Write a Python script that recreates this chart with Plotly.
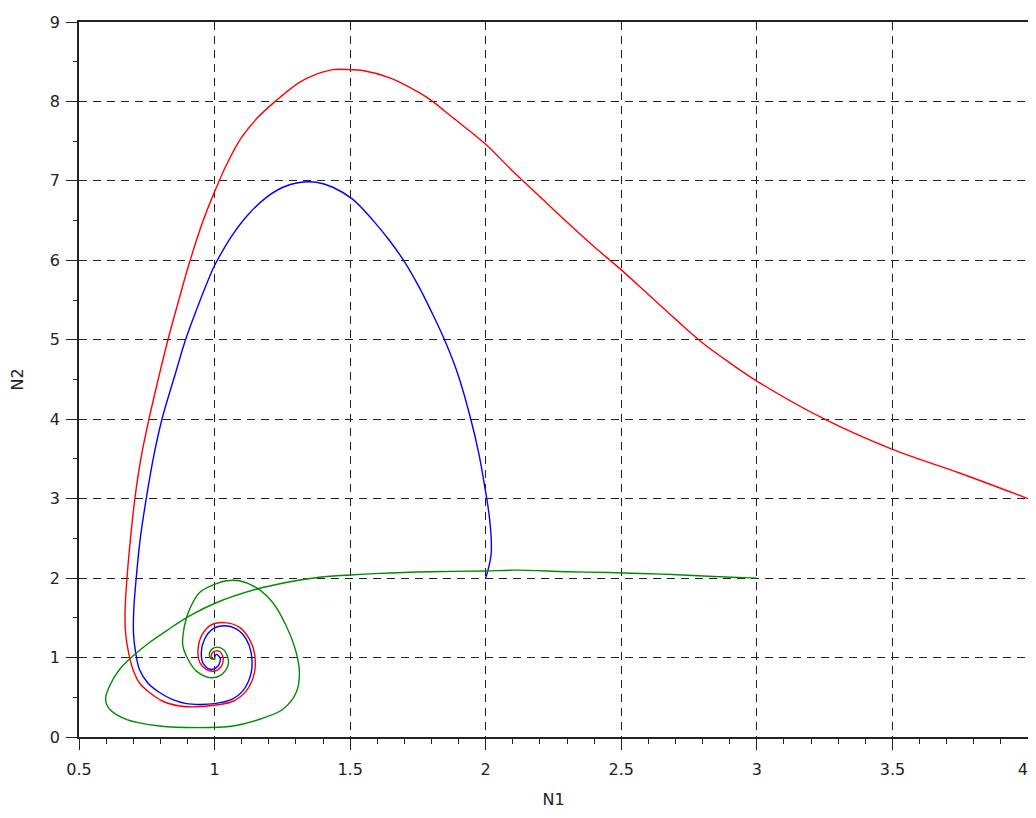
import plotly.graph_objects as go

# Trajectory starting at (4, 3) - red
red_n1 = [4.0, 3.75, 3.5, 3.25, 3.0, 2.9, 2.8, 2.7, 2.6, 2.5, 2.4, 2.3, 2.2, 2.1, 2.0,
          1.877, 1.804, 1.755, 1.644, 1.546, 1.5, 1.436, 1.374, 1.313, 1.227, 1.160, 1.100,
          1.045, 0.996, 0.958, 0.910, 0.868, 0.828, 0.792, 0.758, 0.728, 0.706, 0.690, 0.677,
          0.670, 0.672, 0.683, 0.699, 0.723, 0.760, 0.809, 0.871, 0.932, 1.0, 1.068, 1.117,
          1.147, 1.147, 1.129, 1.092, 1.037, 0.982, 0.951, 0.939, 0.945, 0.969, 1.0, 1.025,
          1.031, 1.016, 0.994, 0.988, 1.0, 1.0]
red_n2 = [3.0, 3.32, 3.62, 4.0, 4.48, 4.71, 4.96, 5.26, 5.57, 5.88, 6.17, 6.48, 6.80, 7.12, 7.46,
          7.80, 8.0, 8.11, 8.30, 8.39, 8.40, 8.40, 8.34, 8.24, 8.01, 7.80, 7.55,
          7.21, 6.83, 6.50, 6.0, 5.50, 5.0, 4.50, 4.0, 3.50, 3.0, 2.50, 2.0,
          1.60, 1.30, 1.06, 0.85, 0.68, 0.56, 0.45, 0.39, 0.38, 0.40, 0.45, 0.58,
          0.81, 1.06, 1.23, 1.38, 1.44, 1.40, 1.27, 1.11, 0.94, 0.85, 0.83, 0.89,
          1.0, 1.08, 1.07, 1.0, 0.98, 1.0]

# Trajectory starting at (2, 2) - blue
blue_n1 = [2.0, 2.012, 2.020, 2.020, 2.012, 1.997, 1.975, 1.945, 1.897, 1.848, 1.803, 1.755,
           1.697, 1.645, 1.585, 1.509, 1.436, 1.380, 1.313, 1.252, 1.190, 1.125, 1.060, 1.010,
           0.995, 0.937, 0.893, 0.855, 0.806, 0.777, 0.748, 0.726, 0.711, 0.702, 0.701, 0.709,
           0.723, 0.754, 0.797, 0.846, 0.896, 0.945, 1.0, 1.061, 1.104, 1.135, 1.135, 1.117,
           1.080, 1.037, 0.994, 0.963, 0.951, 0.959, 0.988, 1.012, 1.021, 1.006, 1.0]
blue_n2 = [2.0, 2.15, 2.30, 2.51, 2.81, 3.14, 3.56, 4.0, 4.57, 5.0, 5.33, 5.66,
           6.0, 6.25, 6.50, 6.77, 6.92, 6.98, 6.98, 6.92, 6.79, 6.58, 6.29, 6.0,
           5.90, 5.41, 5.0, 4.57, 4.0, 3.56, 3.0, 2.50, 2.0, 1.60, 1.30, 1.06,
           0.85, 0.68, 0.56, 0.47, 0.42, 0.41, 0.42, 0.47, 0.58, 0.81, 1.06, 1.23,
           1.36, 1.40, 1.36, 1.23, 1.06, 0.92, 0.85, 0.89, 0.99, 1.04, 1.0]

# Trajectory starting at (3, 2) - green
green_n1 = [3.0, 2.84, 2.65, 2.45, 2.3, 2.11, 2.0, 1.8, 1.61, 1.5, 1.387, 1.264, 1.154,
            1.006, 0.908, 0.822, 0.760, 0.699, 0.650, 0.613, 0.598, 0.613, 0.674, 0.797,
            0.945, 1.068, 1.166, 1.252, 1.301, 1.313, 1.301, 1.264, 1.215, 1.154, 1.092,
            1.043, 1.0, 0.945, 0.908, 0.889, 0.883, 0.902, 0.932, 0.982, 1.018, 1.049,
            1.049, 1.031, 1.0, 0.982, 0.985, 1.0, 1.0]
green_n2 = [2.0, 2.02, 2.05, 2.07, 2.08, 2.10, 2.09, 2.08, 2.06, 2.04, 2.01, 1.945, 1.86,
            1.69, 1.525, 1.336, 1.19, 1.02, 0.853, 0.643, 0.475, 0.349, 0.223, 0.139,
            0.118, 0.139, 0.223, 0.349, 0.559, 0.811, 1.063, 1.40, 1.69, 1.88, 1.966,
            1.966, 1.92, 1.82, 1.61, 1.40, 1.147, 0.979, 0.832, 0.748, 0.769, 0.895,
            1.0, 1.105, 1.126, 1.063, 0.99, 0.98, 1.0]

x_ticks = [0.5, 1, 1.5, 2, 2.5, 3, 3.5, 4]
# trailing no-break spaces keep the last label inside the visible page edge
x_labels = ["0.5", "1", "1.5", "2", "2.5", "3", "3.5", "4\u00a0\u00a0"]
y_ticks = [0, 1, 2, 3, 4, 5, 6, 7, 8, 9]
y_labels = [str(v) for v in y_ticks]

fig = go.Figure()
for xs, ys, col in [(red_n1, red_n2, "#ff0000"),
                    (blue_n1, blue_n2, "#0000ff"),
                    (green_n1, green_n2, "#008c00")]:
    fig.add_trace(go.Scatter(x=xs, y=ys, mode="lines",
                             line=dict(color=col, width=1.4, shape="spline", smoothing=1.0),
                             showlegend=False, hoverinfo="skip"))

font = dict(family="DejaVu Sans", size=16, color="#222222")
axis_common = dict(
    showline=True, linecolor="#222222", linewidth=1.5, mirror=True,
    showgrid=True, gridcolor="#222222", gridwidth=1.2, griddash="8px,6px",
    ticks="outside", ticklen=11, tickcolor="#222222", tickwidth=1.2,
    zeroline=False, tickfont=font, automargin=False, ticklabeloverflow="allow",
)

fig.update_xaxes(range=[0.5, 4], tickmode="array", tickvals=x_ticks, ticktext=x_labels,
                 minor=dict(dtick=0.1, tick0=0.5, ticks="outside", ticklen=5,
                            tickcolor="#222222", showgrid=False),
                 title=dict(text="N1", font=font, standoff=24),
                 ticklabelstandoff=6, **axis_common)
fig.update_yaxes(range=[0, 9], tickmode="array", tickvals=y_ticks, ticktext=y_labels,
                 minor=dict(dtick=0.5, tick0=0, ticks="outside", ticklen=4,
                            tickcolor="#222222", showgrid=False),
                 title=dict(text="N2", font=font, standoff=22),
                 ticklabelstandoff=3, **axis_common)

# page body has an 8px margin, so the figure is sized/offset to compensate
fig.update_layout(width=1028, height=801,
                  margin=dict(l=71, r=8, t=14, b=72),
                  plot_bgcolor="white", paper_bgcolor="white",
                  font=font)

fig.write_html("out.html")
